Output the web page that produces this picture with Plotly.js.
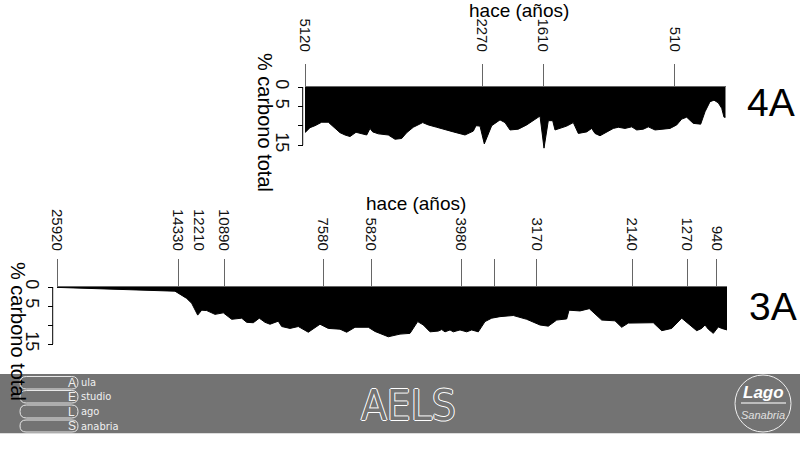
<!DOCTYPE html>
<html>
<head>
<meta charset="utf-8">
<script src="https://cdn.plot.ly/plotly-3.0.1.min.js"></script>
<style>html,body{margin:0;padding:0;background:#fff;}#chart{width:800px;height:455px;}</style>
</head>
<body>
<div id="chart"></div>
<script>
// ---- Data: core 4A (top) ----
const depthTop = [0,5,10,16.7,23.3,28.3,35,40,45,51,56.7,61.7,65,67.7,73.3,83.3,90,96.7,101.7,108.3,117.7,123.3,131.7,140,148.3,160,168.3,171,175,179.3,186.7,195,200,205,213.3,221.7,230,235,239,243.3,247.7,250,261.7,268.3,273.3,281.7,286.7,290,295,301.7,308.3,313.3,320,326.7,331.7,338.3,343.3,350,358.3,365,371.7,376.7,381.7,385,388.3,395.7,400,405,409,413.3,416.7,419,420.7];
const carbonTop = [11.8,10.5,10.0,9.1,9.1,10.3,11.8,12.4,12.8,11.7,12.1,12.4,10.7,11.6,12.1,12.4,13.5,13.3,11.8,10.4,9.2,9.8,10.4,11.1,11.6,12.4,11.4,10.0,10.1,14.7,10.0,8.5,9.2,11.1,10.9,9.8,8.5,7.5,15.8,8.7,8.7,11.1,10.1,9.2,12.0,11.6,10.7,12.0,12.6,11.7,10.7,10.4,10.7,10.3,11.1,10.9,10.3,11.1,10.8,10.7,9.8,8.3,7.8,8.5,9.4,9.6,6.4,3.8,3.4,4.1,5.5,7.8,7.8];
const ageTopPos = [0,177,238,369.7];
const ageTopLabels = ['5120','2270','1610','510'];

// ---- Data: core 3A (bottom) ----
const depthBot = [0,118,129.7,134.7,140.7,144.7,149.7,158,166.3,174.7,184.7,189.7,196.3,202.3,208,213,221.3,224.7,233,241.3,251.3,263,271.3,283,289.7,298,311.3,318,331.3,343,353,360.7,366.3,373,381.3,384.7,388,393,396.3,403,409.7,414.7,421.3,428,434.7,443,456.3,469.7,483,491.3,499.7,509.7,512,523,532.3,544.7,558,564.7,571.3,596.3,604.7,614.7,624.7,633,639.7,644.7,648,651.3,656.3,661.3,664.7,670];
const carbonBot = [0.1,1.1,3.0,4.3,7.4,6.1,6.2,7.2,6.8,8.5,8.2,9.3,9.4,8.2,9.3,9.8,9.0,10.4,10.9,10.4,11.9,9.8,10.9,11.1,11.9,10.6,10.6,11.7,13.1,12.4,12.2,9.1,10.0,11.8,11.6,11.2,11.8,11.3,11.8,11.3,11.8,11.3,11.8,9.1,8.2,7.8,7.5,8.5,10.0,10.3,8.7,8.4,6.1,6.3,5.7,8.7,8.9,10.6,9.5,9.4,11.5,10.9,8.2,10.0,11.5,10.9,10.0,11.1,12.2,10.5,10.9,11.3];
const ageBotPos = [0,121,167,266,314,404,437.7,479.7,575,630,659.7];
const ageBotLabels = ['25920','14330','10890','7580','5820','3980','','3170','2140','1270','940'];
const ageBotExtraPos = [142];
const ageBotExtraLabels = ['12210'];

const carbonTicks = [0,5,10,15];
const carbonTickLabels = ['0','5','','15'];

// ---- layout helpers (pixel -> paper) ----
const W = 800, H = 455;
const fx = p => p / W;
const fy = p => 1 - p / H;

const FONT = 'Liberation Sans, Arial, Helvetica, sans-serif';

const traces = [
  {x: depthTop, y: carbonTop, xaxis: 'x', yaxis: 'y', type: 'scatter', mode: 'lines',
   fill: 'tozeroy', fillcolor: '#000', line: {color: '#000', width: 1}, hoverinfo: 'skip'},
  {x: depthBot, y: carbonBot, xaxis: 'x2', yaxis: 'y2', type: 'scatter', mode: 'lines',
   fill: 'tozeroy', fillcolor: '#000', line: {color: '#000', width: 1}, hoverinfo: 'skip'},
  // invisible carrier so the overlaid label-only axis (x3) is drawn
  {x: ageBotExtraPos, y: [0], xaxis: 'x3', yaxis: 'y2', type: 'scatter', mode: 'markers',
   marker: {opacity: 0, size: 1}, hoverinfo: 'skip'}
];

const TICKSIZE = 15;
const xCommon = {
  side: 'top', tickangle: 90, ticks: 'outside', tickcolor: '#666', tickwidth: 1,
  showline: true, linecolor: '#666', linewidth: 1, showgrid: false, zeroline: false,
  tickmode: 'array', tickfont: {family: FONT, size: TICKSIZE, color: '#111'}, fixedrange: true
};
const yCommon = {
  tickmode: 'array', tickvals: carbonTicks, ticktext: carbonTickLabels, tickangle: 90,
  ticks: 'outside', ticklen: 5, tickcolor: '#000', tickwidth: 1, showline: false,
  showgrid: false, zeroline: false, anchor: 'free',
  tickfont: {family: FONT, size: 18, color: '#111'}, fixedrange: true
};

// top chart geometry
const topX0 = 305, topX1 = 725.7, topY0 = 87, topScale = 3.87, topMax = 16.5;
// bottom chart geometry
const botX0 = 57, botX1 = 727, botY0 = 287, botScale = 3.8, botMax = 17;

const layout = {
  width: W, height: H, margin: {l: 0, r: 0, t: 0, b: 0},
  paper_bgcolor: '#fff', plot_bgcolor: 'rgba(0,0,0,0)', showlegend: false,
  font: {family: FONT, color: '#000'},
  xaxis: Object.assign({}, xCommon, {
    domain: [fx(topX0), fx(topX1)], range: [0, 420.7], anchor: 'y',
    tickvals: ageTopPos, ticktext: ageTopLabels, ticklen: 22, ticklabelstandoff: 7
  }),
  yaxis: Object.assign({}, yCommon, {
    domain: [fy(topY0 + topMax * topScale), fy(topY0)], range: [topMax, 0],
    position: fx(302.7)
  }),
  xaxis2: Object.assign({}, xCommon, {
    domain: [fx(botX0), fx(botX1)], range: [0, 670], anchor: 'y2',
    tickvals: ageBotPos, ticktext: ageBotLabels, ticklen: 27, ticklabelstandoff: 3
  }),
  xaxis3: Object.assign({}, xCommon, {
    overlaying: 'x2', range: [0, 670], anchor: 'y2', showline: false,
    tickvals: ageBotExtraPos, ticktext: ageBotExtraLabels, ticklen: 27,
    tickcolor: 'rgba(0,0,0,0)', ticklabelstandoff: 3
  }),
  yaxis2: Object.assign({}, yCommon, {
    domain: [fy(botY0 + botMax * botScale), fy(botY0)], range: [botMax, 0],
    position: fx(52.7)
  }),
  shapes: [],
  annotations: []
};

// y-axis lines spanning 0..15
layout.shapes.push({type: 'line', xref: 'paper', yref: 'y', x0: fx(302.7), x1: fx(302.7), y0: 0, y1: 15, line: {color: '#000', width: 1}});
layout.shapes.push({type: 'line', xref: 'paper', yref: 'y2', x0: fx(52.7), x1: fx(52.7), y0: 0, y1: 15, line: {color: '#000', width: 1}});

// footer band
layout.shapes.push({type: 'rect', xref: 'paper', yref: 'paper', x0: 0, x1: 1, y0: fy(433.3), y1: fy(374),
  fillcolor: '#737373', line: {width: 0}, layer: 'below'});

// pills of left logo
function pill(x0, x1, y0, y1) {
  const r = (y1 - y0) / 2, ym = (y0 + y1) / 2;
  const P = (a, b) => fx(a) + ',' + fy(b);
  return 'M' + P(x0 + r, y0) + ' L' + P(x1 - r, y0) + ' Q' + P(x1, y0) + ' ' + P(x1, ym) +
    ' Q' + P(x1, y1) + ' ' + P(x1 - r, y1) + ' L' + P(x0 + r, y1) + ' Q' + P(x0, y1) + ' ' + P(x0, ym) +
    ' Q' + P(x0, y0) + ' ' + P(x0 + r, y0) + ' Z';
}
const pillRows = [[376.5, 389], [390.5, 403], [405, 418], [420, 432]];
const logoLetters = ['A', 'E', 'L', 'S'];
const logoWords = ['ula', 'studio', 'ago', 'anabria'];
pillRows.forEach((r, i) => {
  layout.shapes.push({type: 'path', xref: 'paper', yref: 'paper', path: pill(20, 78, r[0], r[1]),
    line: {color: '#e8e8e8', width: 1}, fillcolor: 'rgba(0,0,0,0)'});
  const yc = (r[0] + r[1]) / 2;
  layout.annotations.push({xref: 'paper', yref: 'paper', x: fx(71.5), y: fy(yc), text: logoLetters[i],
    showarrow: false, xanchor: 'center', yanchor: 'middle', font: {family: FONT, size: 12, color: '#f0f0f0'}});
  layout.annotations.push({xref: 'paper', yref: 'paper', x: fx(79), y: fy(yc), text: logoWords[i],
    showarrow: false, xanchor: 'left', yanchor: 'middle', font: {family: 'DejaVu Sans Condensed, ' + FONT, size: 11, color: '#f0f0f0'}});
});

// right circle logo
layout.shapes.push({type: 'circle', xref: 'paper', yref: 'paper', x0: fx(735), x1: fx(791), y0: fy(432), y1: fy(375),
  line: {color: '#f0f0f0', width: 1}});
layout.shapes.push({type: 'line', xref: 'paper', yref: 'paper', x0: fx(741), x1: fx(786), y0: fy(403), y1: fy(403),
  line: {color: '#bdbdbd', width: 2}});
layout.annotations.push({xref: 'paper', yref: 'paper', x: fx(763), y: fy(392), text: 'Lago', showarrow: false,
  xanchor: 'center', yanchor: 'middle', font: {family: FONT, size: 17, color: '#fff', style: 'italic', weight: 'bold'}});
layout.annotations.push({xref: 'paper', yref: 'paper', x: fx(763), y: fy(415), text: 'Sanabria', showarrow: false,
  xanchor: 'center', yanchor: 'middle', font: {family: FONT, size: 11, color: '#e0e0e0', style: 'italic'}});

// AELS outlined
layout.annotations.push({xref: 'paper', yref: 'paper', x: fx(408), y: fy(405), text: 'AELS', showarrow: false,
  xanchor: 'center', yanchor: 'middle',
  font: {family: 'DejaVu Sans Condensed, ' + FONT, size: 42, color: '#737373',
    shadow: '1px 0 0 #fff, -1px 0 0 #fff, 0 1px 0 #fff, 0 -1px 0 #fff'}});

// titles
const titleFont = {family: FONT, size: 19, color: '#000'};
layout.annotations.push({xref: 'paper', yref: 'paper', x: fx(519), y: fy(10), text: 'hace (años)', showarrow: false,
  xanchor: 'center', yanchor: 'middle', font: titleFont});
layout.annotations.push({xref: 'paper', yref: 'paper', x: fx(416), y: fy(203), text: 'hace (años)', showarrow: false,
  xanchor: 'center', yanchor: 'middle', font: titleFont});
layout.annotations.push({xref: 'paper', yref: 'paper', x: fx(265), y: fy(122), text: '% carbono total', showarrow: false,
  textangle: 90, xanchor: 'center', yanchor: 'middle', font: {family: FONT, size: 20, color: '#000'}});
layout.annotations.push({xref: 'paper', yref: 'paper', x: fx(18), y: fy(331), text: '% carbono total', showarrow: false,
  textangle: 90, xanchor: 'center', yanchor: 'middle', font: {family: FONT, size: 20, color: '#000'}});
layout.annotations.push({xref: 'paper', yref: 'paper', x: fx(771), y: fy(103), text: '4A', showarrow: false,
  xanchor: 'center', yanchor: 'middle', font: {family: FONT, size: 39, color: '#000'}});
layout.annotations.push({xref: 'paper', yref: 'paper', x: fx(773), y: fy(306), text: '3A', showarrow: false,
  xanchor: 'center', yanchor: 'middle', font: {family: FONT, size: 39, color: '#000'}});

Plotly.newPlot('chart', traces, layout, {displayModeBar: false, staticPlot: true});
</script>
</body>
</html>
